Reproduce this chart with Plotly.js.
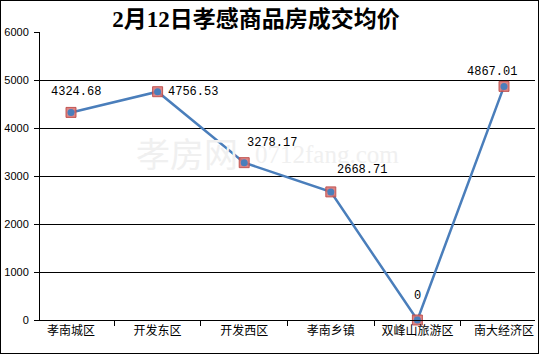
<!DOCTYPE html>
<html><head><meta charset="utf-8">
<script src="https://cdn.plot.ly/plotly-3.0.1.min.js"></script>
<style>
html,body{margin:0;padding:0;background:#fff;}
#chart{width:537px;height:352px;border:1px solid #000;}
</style></head>
<body><div id="chart"></div>
<script>
const categories = ["孝南城区","开发东区","开发西区","孝南乡镇","双峰山旅游区","南大经济区"];
const prices = [4324.68, 4756.53, 3278.17, 2668.71, 0, 4867.01];
const labelText = ["4324.68","4756.53","3278.17","2668.71","0","4867.01"];
const yTicks = [0,1000,2000,3000,4000,5000,6000];

const labelPos = [
  {xs:5, ys:20, xa:"center"},
  {xs:8, ys:0, xa:"left"},
  {xs:1, ys:20, xa:"left"},
  {xs:4, ys:22, xa:"left"},
  {xs:0, ys:24, xa:"center"},
  {xs:-12, ys:14, xa:"center"}
];

const traces = [
  {x:categories, y:prices, type:"scatter", mode:"lines",
   line:{color:"#4a7ebb", width:2.5}, hoverinfo:"skip", cliponaxis:false},
  {x:categories, y:prices, type:"scatter", mode:"markers",
   marker:{symbol:"square", size:10, color:"rgba(214,110,110,0.85)", line:{color:"rgba(190,75,72,0.9)", width:1}}, cliponaxis:false},
  {x:categories, y:prices, type:"scatter", mode:"markers",
   marker:{symbol:"circle", size:7, color:"#4a7ebb"}, cliponaxis:false}
];

const annotations = [];
annotations.push({xref:"paper", yref:"paper", x:0.19, y:0.58, xanchor:"left", text:"孝房网", showarrow:false,
  font:{family:"Noto Sans CJK SC", size:34, color:"#f0f0f0"}});
annotations.push({xref:"paper", yref:"paper", x:0.43, y:0.575, xanchor:"left", text:"0712fang.com", showarrow:false,
  font:{family:"Liberation Serif, serif", size:25, color:"#f0f0f0"}});
categories.forEach((c,i)=>annotations.push({
  x:c, y:prices[i], xref:"x", yref:"y", text:labelText[i], showarrow:false,
  xshift:labelPos[i].xs, yshift:labelPos[i].ys, xanchor:labelPos[i].xa, yanchor:"middle",
  font:{family:"Liberation Mono, DejaVu Sans Mono, monospace", size:12, color:"#000"}
}));

const layout = {
  width:537, height:352,
  margin:{l:39, r:3, t:31, b:33},
  paper_bgcolor:"#fff", plot_bgcolor:"#fff",
  showlegend:false,
  title:{text:"2月12日孝感商品房成交均价", x:0.475, xanchor:"center", y:0.95, yanchor:"middle",
    font:{family:"Liberation Serif, Noto Sans CJK SC, serif", size:23, color:"#000", weight:"bold"}},
  xaxis:{type:"category", tickson:"boundaries", ticks:"outside", ticklen:5, tickcolor:"#000",
    showline:true, linecolor:"#000", linewidth:1, showgrid:false, zeroline:false,
    tickfont:{family:"Noto Sans CJK SC, sans-serif", size:12, color:"#000"}},
  yaxis:{range:[0,6000], tickvals:yTicks, ticktext:yTicks.map(String), ticks:"outside", ticklen:5, tickcolor:"#000",
    ticklabelstandoff:3,
    showline:true, linecolor:"#000", linewidth:1, showgrid:true, gridcolor:"#000", gridwidth:1, zeroline:false,
    tickfont:{family:"Liberation Sans, Arial, sans-serif", size:11, color:"#000"}},
  annotations:annotations
};

Plotly.newPlot("chart", traces, layout, {displayModeBar:false, staticPlot:true});
</script></body></html>
